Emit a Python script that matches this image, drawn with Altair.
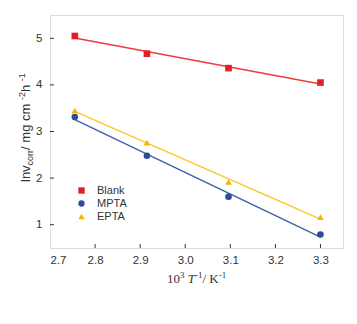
import altair as alt
import pandas as pd

# ---- data ----
x_vals = [2.755, 2.915, 3.096, 3.300]
blank = [5.05, 4.67, 4.36, 4.05]
mpta = [3.31, 2.48, 1.60, 0.79]
epta = [3.45, 2.76, 1.92, 1.16]
series_names = ["Blank", "MPTA", "EPTA"]
x_ticks = [2.7, 2.8, 2.9, 3.0, 3.1, 3.2, 3.3]
y_ticks = [1, 2, 3, 4, 5]

rows = []
for name, vals in zip(series_names, [blank, mpta, epta]):
    for xv, yv in zip(x_vals, vals):
        rows.append({"x": xv, "y": yv, "series": name})
df = pd.DataFrame(rows)

W, H = 293, 233
xscale = alt.Scale(domain=[2.7, 3.35], nice=False, zero=False)
yscale = alt.Scale(domain=[0.5, 5.5], nice=False, zero=False)

point_colors = ["#e41e26", "#2b4c9b", "#f7b500"]
line_colors = ["#ee3a40", "#3d60aa", "#f9c62a"]
shapes = ["square", "circle", "triangle-up"]

lab_col = "#333333"

xaxis = alt.Axis(values=x_ticks, format=".1f", title=None, ticks=False, domain=False,
                 grid=False, labelFont="Arial", labelFontSize=11.5, labelColor=lab_col,
                 labelPadding=6)
yaxis = alt.Axis(values=y_ticks, format="d", title=None, ticks=False, domain=False,
                 grid=False, labelFont="Arial", labelFontSize=11.5, labelColor=lab_col,
                 labelPadding=8)

layers = []
for name, lc in zip(series_names, line_colors):
    layers.append(
        alt.Chart(df).transform_filter(alt.datum.series == name)
        .transform_regression("x", "y")
        .mark_line(strokeWidth=1.4, color=lc).encode(
            x=alt.X("x:Q", scale=xscale, axis=xaxis),
            y=alt.Y("y:Q", scale=yscale, axis=yaxis),
        )
    )

leg = alt.Legend(title=None, orient="none", legendX=26, legendY=170,
                 labelFont="Arial", labelFontSize=11, labelColor=lab_col,
                 symbolSize=40, rowPadding=1, labelOffset=10, padding=0)

points = alt.Chart(df).mark_point(filled=True, opacity=1, size=44).encode(
    x=alt.X("x:Q", scale=xscale, axis=xaxis),
    y=alt.Y("y:Q", scale=yscale, axis=yaxis),
    color=alt.Color("series:N", scale=alt.Scale(domain=series_names, range=point_colors), legend=leg),
    shape=alt.Shape("series:N", scale=alt.Scale(domain=series_names, range=shapes), legend=leg),
)
layers.append(points)

xt = alt.Chart(pd.DataFrame({"t": x_ticks[1:]})).mark_rule(color="#333", strokeWidth=1).encode(
    x=alt.X("t:Q", scale=xscale, axis=xaxis), y=alt.value(H), y2=alt.value(H - 4))
yt = alt.Chart(pd.DataFrame({"t": y_ticks})).mark_rule(color="#333", strokeWidth=1).encode(
    y=alt.Y("t:Q", scale=yscale, axis=yaxis), x=alt.value(0), x2=alt.value(4))
layers += [xt, yt]

# ---- title pieces ----
arial_w = {"l": .222, "n": .556, "v": .5, "c": .5, "o": .556, "r": .333, " ": .278, "/": .278,
           "m": .833, "g": .556, "h": .556, "-": .333, "1": .556, "2": .556}
times_w = {"1": .5, "0": .5, "3": .5, " ": .25, "T": .556, "-": .333, "/": .278, "K": .722}

def width(s, size, table):
    return sum(table.get(ch, .5) for ch in s) * size

# y title (rotated, text runs upward)
y_pieces = [("lnv", 13, 0), ("corr", 9, 3), (" / mg cm", 13, 0), ("-2", 9, -5), (" h", 13, 0), ("-1", 9, -5)]
ypos = 167.0
for txt, sz, shift in y_pieces:
    layers.append(
        alt.Chart(pd.DataFrame({"t": [txt]})).mark_text(
            angle=270, align="left", baseline="alphabetic", font="Arial", fontSize=sz,
            color=lab_col).encode(text="t:N", x=alt.value(-20 + shift), y=alt.value(ypos))
    )
    ypos -= width(txt, sz, arial_w)

# x title
x_pieces = [("10", 13, 0, "normal"), ("3", 9, -5, "normal"), (" ", 13, 0, "normal"),
            ("T", 13, 0, "italic"), ("-1", 9, -5, "normal"), ("/ K", 13, 0, "normal"), ("-1", 9, -5, "normal")]
xpos = 117.0
for txt, sz, shift, style in x_pieces:
    layers.append(
        alt.Chart(pd.DataFrame({"t": [txt]})).mark_text(
            align="left", baseline="alphabetic", font="Liberation Serif", fontSize=sz,
            fontStyle=style, color=lab_col).encode(text="t:N", x=alt.value(xpos), y=alt.value(268 + shift))
    )
    xpos += width(txt, sz, times_w)

chart = alt.layer(*layers).properties(
    width=W, height=H,
    autosize=alt.AutoSizeParams(type="none"),
    padding={"left": 50, "top": 15, "right": 14, "bottom": 76},
).configure_view(stroke="#333333", strokeWidth=1.5).configure(background="white")

chart.save("out.html", embed_options={"renderer": "svg", "actions": False})
